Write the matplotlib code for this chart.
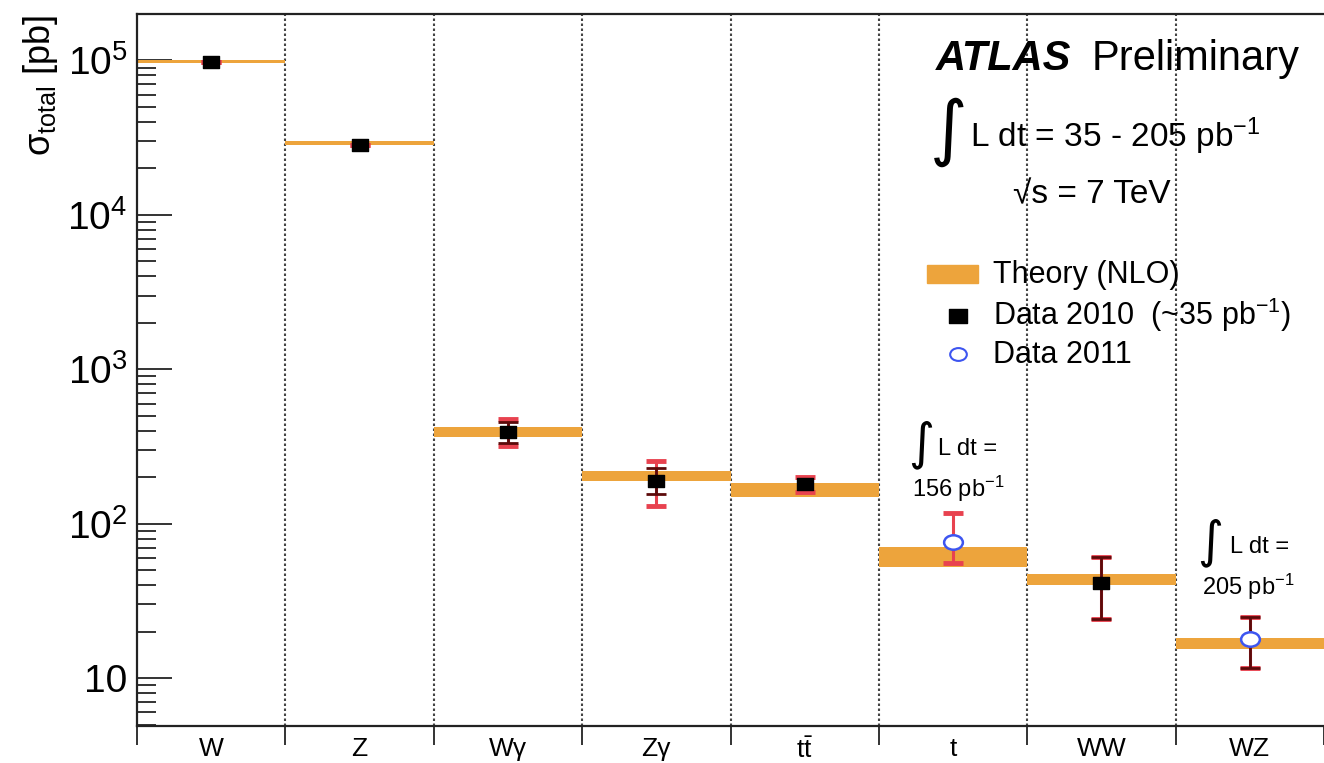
import numpy as np
import matplotlib
matplotlib.use("Agg")
import matplotlib.pyplot as plt
from matplotlib.path import Path
from matplotlib.patches import Rectangle
from matplotlib.transforms import Affine2D
from matplotlib.ticker import FixedLocator, LogLocator, FuncFormatter, NullFormatter

# -----------------------------------------
# DATOS: secciones eficaces totales [pb]
# -----------------------------------------

procesos = ["W", "Z", "W\u03b3", "Z\u03b3", r"$\mathrm{t\bar{t}}$", "t", "WW", "WZ"]

teoria = [98.9e3, 29.2e3, 393, 204, 166, 61.0, 43.3, 16.8]
teoria_min = [96.4e3, 28.5e3, 366, 190, 150, 52.6, 40.0, 15.5]
teoria_max = [101.4e3, 29.9e3, 424, 219, 184, 70.8, 47.0, 18.2]

medida = [97.5e3, 28.5e3, 395, 190, 181, 76.4, 41.4, 17.8]
anio = [2010, 2010, 2010, 2010, 2010, 2011, 2010, 2011]

# error total (estadístico + sistemático)
total_min = [97.5e3, 28.5e3, 318, 130, 160, 55.3, 24.0, 11.6]
total_max = [97.5e3, 28.5e3, 479, 255, 200, 118, 61.0, 24.9]

# error estadístico (nan = no se dibuja)
stat_min = [np.nan, np.nan, 334, 155, np.nan, np.nan, 24.0, 11.6]
stat_max = [np.nan, np.nan, 455, 229, np.nan, np.nan, 61.0, 24.9]

# -----------------------------------------
# ESTILO
# -----------------------------------------

plt.rcParams["font.family"] = ["Liberation Sans", "DejaVu Sans"]
plt.rcParams["mathtext.fontset"] = "custom"
plt.rcParams["mathtext.rm"] = "Liberation Sans"
plt.rcParams["mathtext.it"] = "Liberation Sans:italic"
plt.rcParams["mathtext.bf"] = "Liberation Sans:bold"

NARANJA = "#eda43c"
ROJO = "#e8424f"
GRANATE = "#5c0a0a"
AZUL = "#3d55f0"
ANCHO, ALTO = 1324, 763

# marcadores algo más anchos que altos
cuadrado = Path([(-1.3, -1), (1.3, -1), (1.3, 1), (-1.3, 1), (-1.3, -1)],
                [Path.MOVETO, Path.LINETO, Path.LINETO, Path.LINETO, Path.CLOSEPOLY])
circulo = Path.unit_circle().transformed(Affine2D().scale(1.3, 1.0))


def fpos(x, y):
    # coordenadas en píxeles -> fracción de figura
    return x / ANCHO, 1 - y / ALTO


fig = plt.figure(figsize=(ANCHO / 100, ALTO / 100), dpi=100)
ax = fig.add_axes([137 / ANCHO, 1 - 726 / ALTO, 1 - 137 / ANCHO, (726 - 14) / ALTO])

n = len(procesos)
centros = np.arange(n) + 0.5

# -----------------------------------------
# BANDAS TEÓRICAS
# -----------------------------------------

lo = np.array(teoria_min)
hi = np.array(teoria_max)
ax.bar(centros, hi - lo, bottom=lo, width=1.0, color=NARANJA,
       linewidth=0, zorder=2)

# separadores entre procesos
for b in range(1, n):
    ax.axvline(b, color="#444444", linestyle=(0, (1.2, 1.2)),
               linewidth=1.5, zorder=1)

# -----------------------------------------
# MEDIDAS CON ERRORES
# -----------------------------------------

med = np.array(medida)
err_tot = [med - np.array(total_min), np.array(total_max) - med]
ax.errorbar(centros, med, yerr=err_tot, fmt="none", ecolor=ROJO,
            elinewidth=2.2, capsize=7, capthick=3.5, zorder=3)

smin = np.array(stat_min)
smax = np.array(stat_max)
ok = ~np.isnan(smin)
ax.errorbar(centros[ok], med[ok], yerr=[med[ok] - smin[ok], smax[ok] - med[ok]],
            fmt="none", ecolor=GRANATE, elinewidth=2.0, capsize=7,
            capthick=2.0, zorder=4)

anio = np.array(anio)
m10 = anio == 2010
m11 = anio == 2011
ax.plot(centros[m10], med[m10], linestyle="none", marker=cuadrado,
        markersize=11, color="black", zorder=5)
ax.plot(centros[m11], med[m11], linestyle="none", marker=circulo,
        markersize=13.5, markerfacecolor="white", markeredgecolor=AZUL,
        markeredgewidth=1.8, zorder=5)

# -----------------------------------------
# EJES
# -----------------------------------------

ax.set_yscale("log")
ax.set_ylim(4.9, 2.0e5)
ax.set_xlim(0, n)

ax.yaxis.set_major_locator(FixedLocator([10, 1e2, 1e3, 1e4, 1e5]))
ax.yaxis.set_minor_locator(LogLocator(base=10, subs=np.arange(2, 10)))
ax.yaxis.set_minor_formatter(NullFormatter())


def etiqueta_log(v, pos):
    e = int(round(np.log10(v)))
    return "10" if e == 1 else r"$\mathrm{10^{%d}}$" % e


ax.yaxis.set_major_formatter(FuncFormatter(etiqueta_log))
ax.tick_params(axis="y", which="major", direction="in", length=25, width=1.4,
               color="#333333", labelsize=28, pad=7)
ax.tick_params(axis="y", which="minor", direction="in", length=14, width=1.4,
               color="#333333")
ax.tick_params(axis="y", right=False)

ax.set_xticks(np.arange(n + 1))
ax.set_xticklabels([])
ax.set_xticks(centros, minor=True)
ax.set_xticklabels(procesos, minor=True)
ax.tick_params(axis="x", which="major", direction="out", length=14,
               width=1.4, color="#333333")
ax.tick_params(axis="x", which="minor", length=0, labelsize=19, pad=8)

for lado in ["left", "bottom", "top"]:
    ax.spines[lado].set_linewidth(1.6)
    ax.spines[lado].set_color("#222222")
ax.spines["right"].set_visible(False)

fig.text(40 / ANCHO, 1 - 15 / ALTO, r"$\mathrm{\sigma_{total}}$ [pb]",
         rotation=90, ha="center", va="top", fontsize=26)

# -----------------------------------------
# TEXTOS Y LEYENDA
# -----------------------------------------

fig.text(*fpos(936, 70), "ATLAS", fontsize=30, weight="bold",
         style="italic", va="baseline")
fig.text(*fpos(1092, 70), "Preliminary", fontsize=30, va="baseline")

fig.text(*fpos(930, 132), "\u222b", family=["DejaVu Sans"], fontsize=52,
         va="center", ha="left")
fig.text(*fpos(970, 147), r"L dt = 35 - 205 pb$^{-1}$", fontsize=24,
         va="baseline")
fig.text(*fpos(1013, 203), "\u221as = 7 TeV", fontsize=24, va="baseline")

fig.add_artist(Rectangle(fpos(927, 283), 51 / ANCHO, 18 / ALTO,
                         transform=fig.transFigure, color=NARANJA))
fig.text(*fpos(993, 283), "Theory (NLO)", fontsize=22, va="baseline")

fig.add_artist(plt.Line2D([958 / ANCHO], [1 - 316 / ALTO], marker=cuadrado,
                          markersize=13, color="black",
                          transform=fig.transFigure))
fig.text(*fpos(993, 325), r"Data 2010  (~35 pb$^{-1}$)", fontsize=22,
         va="baseline")

fig.add_artist(plt.Line2D([958 / ANCHO], [1 - 354 / ALTO], marker=circulo,
                          markersize=12, markerfacecolor="white",
                          markeredgecolor=AZUL, markeredgewidth=1.5,
                          transform=fig.transFigure))
fig.text(*fpos(993, 363), "Data 2011", fontsize=22, va="baseline")

# luminosidad de los resultados 2011
fig.text(*fpos(908, 445), "\u222b", family=["DejaVu Sans"], fontsize=36,
         va="center", ha="left")
fig.text(*fpos(938, 455), "L dt =", fontsize=17, va="baseline")
fig.text(*fpos(912, 497), r"156 pb$^{-1}$", fontsize=17, va="baseline")

fig.text(*fpos(1197, 543), "\u222b", family=["DejaVu Sans"], fontsize=36,
         va="center", ha="left")
fig.text(*fpos(1230, 553), "L dt =", fontsize=17, va="baseline")
fig.text(*fpos(1202, 595), r"205 pb$^{-1}$", fontsize=17, va="baseline")

fig.savefig("out.png", dpi=100)
